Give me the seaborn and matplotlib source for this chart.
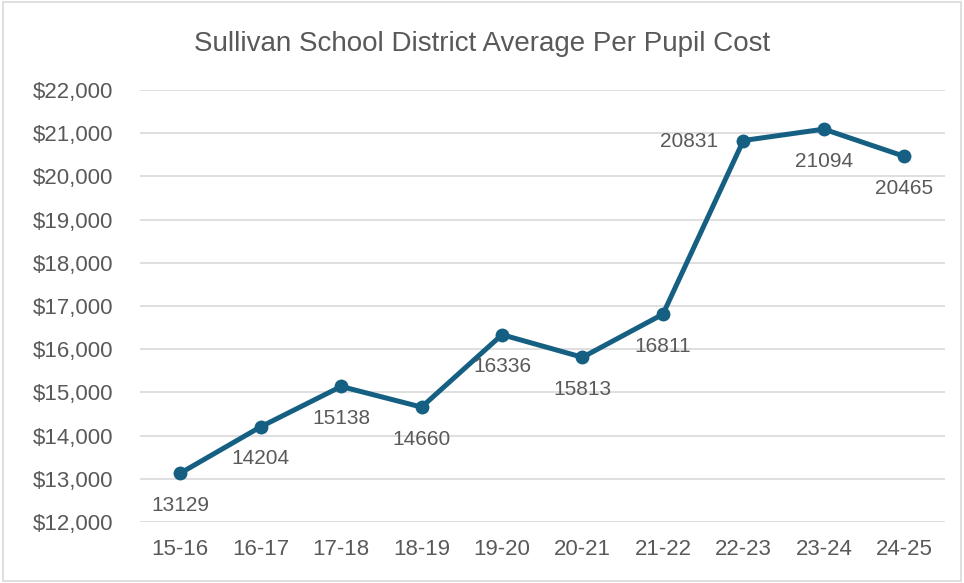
import pandas as pd
import seaborn as sns
import matplotlib.pyplot as plt
from matplotlib.ticker import FuncFormatter
from matplotlib.patches import Rectangle

# Data
years = ["15-16", "16-17", "17-18", "18-19", "19-20", "20-21", "21-22", "22-23", "23-24", "24-25"]
cost = [13129, 14204, 15138, 14660, 16336, 15813, 16811, 20831, 21094, 20465]
label_side = ["below", "below", "below", "below", "below", "below", "below", "left", "below", "below"]

df = pd.DataFrame({"Year": years, "Cost": cost})

sns.set_theme(style="white")
plt.rcParams["font.family"] = ["Liberation Sans", "DejaVu Sans"]

line_color = "#156082"
text_color = "#595959"

fig = plt.figure(figsize=(9.64, 5.83), dpi=100)
ax = fig.add_axes([0.1452, 0.1046, 0.8346, 0.741])

sns.lineplot(data=df, x="Year", y="Cost", ax=ax, color=line_color, linewidth=3.6,
             marker="o", markersize=10, markeredgewidth=0, sort=False)

ax.set_xlim(-0.5, len(years) - 0.5)
ax.set_ylim(12000, 22000)
ax.set_yticks(range(12000, 22001, 1000))
ax.yaxis.set_major_formatter(FuncFormatter(lambda v, p: f"${v:,.0f}"))
ax.grid(axis="y", color="#d9d9d9", linewidth=1.2)
ax.grid(axis="x", visible=False)
for s in ax.spines.values():
    s.set_visible(False)
ax.tick_params(axis="both", length=0, labelsize=16, colors=text_color)
ax.tick_params(axis="y", pad=19)
ax.tick_params(axis="x", pad=12)
ax.set_xlabel("")
ax.set_ylabel("")

for i, (v, side) in enumerate(zip(cost, label_side)):
    if side == "left":
        ax.annotate(str(v), (i, v), xytext=(-18, -1), textcoords="offset points",
                    ha="right", va="center", fontsize=15, color=text_color)
    else:
        ax.annotate(str(v), (i, v), xytext=(0, -23), textcoords="offset points",
                    ha="center", va="center", fontsize=15, color=text_color)

fig.text(0.5, 0.924, "Sullivan School District Average Per Pupil Cost", ha="center", va="center",
         fontsize=20, color=text_color)

fig.patches.append(Rectangle((0.003, 0.003), 0.994, 0.994, transform=fig.transFigure,
                             fill=False, edgecolor="#d9d9d9", linewidth=1.2))

plt.savefig("out.png", dpi=100)
